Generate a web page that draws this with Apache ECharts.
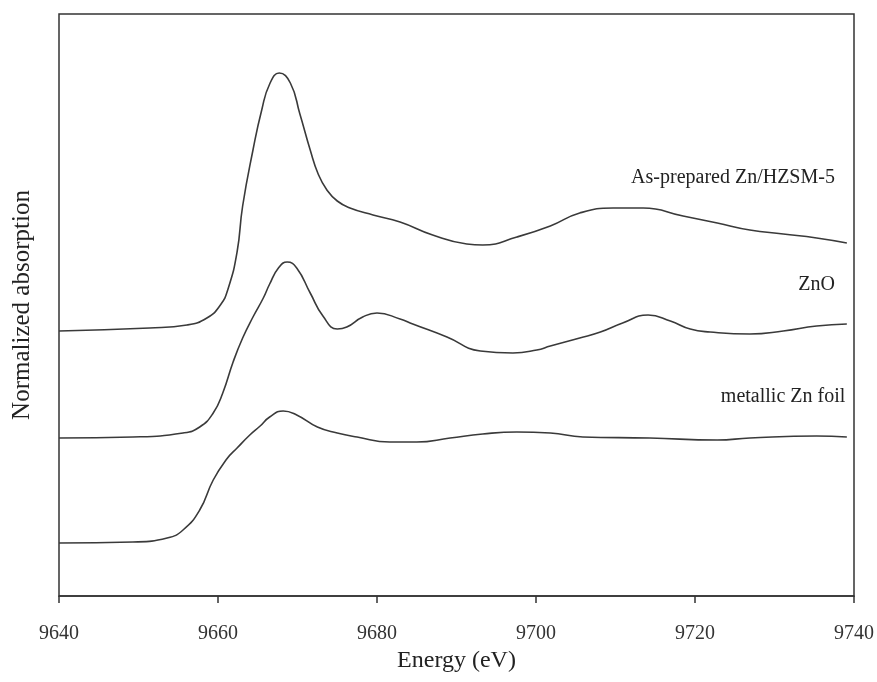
<!DOCTYPE html>
<html>
<head>
<meta charset="utf-8">
<script src="https://cdn.jsdelivr.net/npm/echarts@6/dist/echarts.min.js"></script>
<style>
html,body{margin:0;padding:0;background:#fff;}
#chart{width:877px;height:682px;}
</style>
</head>
<body>
<div id="chart"></div>
<script>
// X tick values (eV)
const xTicks = [9640, 9660, 9680, 9700, 9720, 9740];

// As-prepared Zn/HZSM-5 (offset normalized absorption)
const asPrepE = [9640.0, 9651.4, 9656.1, 9658.6, 9660.3, 9661.3, 9662.4, 9663.1, 9664.4, 9665.5, 9666.5, 9667.7, 9669.1, 9670.3, 9671.6, 9672.6, 9673.7, 9675.0, 9676.6, 9679.5, 9682.9, 9687.0, 9691.3, 9693.3, 9697.6, 9701.8, 9705.5, 9709.7, 9713.5, 9718.5, 9722.8, 9726.9, 9731.1, 9735.3, 9739.1];
const asPrepMu = [2.65, 2.68, 2.71, 2.78, 2.91, 3.08, 3.44, 3.90, 4.46, 4.86, 5.12, 5.23, 5.13, 4.82, 4.46, 4.22, 4.06, 3.95, 3.88, 3.81, 3.74, 3.61, 3.52, 3.51, 3.59, 3.70, 3.83, 3.88, 3.88, 3.80, 3.73, 3.66, 3.62, 3.58, 3.53];

// ZnO
const znoE = [9640.0, 9649.3, 9655.6, 9657.7, 9659.4, 9660.6, 9661.9, 9663.1, 9664.4, 9665.7, 9666.5, 9667.6, 9668.7, 9669.9, 9671.6, 9673.2, 9675.0, 9676.2, 9678.2, 9680.0, 9682.9, 9684.5, 9688.8, 9693.0, 9697.1, 9700.1, 9701.8, 9705.5, 9708.1, 9710.9, 9714.1, 9716.9, 9719.4, 9721.9, 9726.9, 9731.1, 9735.3, 9739.1];
const znoMu = [1.58, 1.59, 1.63, 1.69, 1.83, 2.03, 2.34, 2.58, 2.79, 2.98, 3.12, 3.28, 3.34, 3.28, 3.03, 2.80, 2.67, 2.69, 2.79, 2.83, 2.77, 2.72, 2.59, 2.45, 2.43, 2.46, 2.50, 2.58, 2.64, 2.73, 2.81, 2.75, 2.67, 2.64, 2.62, 2.65, 2.70, 2.72];

// metallic Zn foil
const znFoilE = [9640.0, 9649.3, 9653.6, 9655.6, 9657.7, 9659.4, 9661.1, 9662.4, 9664.0, 9665.3, 9666.5, 9668.2, 9669.9, 9672.5, 9675.0, 9677.5, 9681.6, 9685.0, 9689.2, 9693.3, 9697.6, 9701.8, 9705.9, 9714.3, 9722.8, 9726.9, 9735.3, 9739.1];
const znFoilMu = [0.53, 0.54, 0.58, 0.66, 0.86, 1.16, 1.37, 1.48, 1.61, 1.70, 1.79, 1.85, 1.81, 1.69, 1.63, 1.59, 1.54, 1.54, 1.58, 1.62, 1.64, 1.63, 1.59, 1.58, 1.56, 1.58, 1.60, 1.59];

// Curve labels: [name, energy of right end, value]
const labelNames = ['As-prepared Zn/HZSM-5', 'ZnO', 'metallic Zn foil'];
const labelE = [9737.6, 9737.6, 9738.9];
const labelY = [4.18, 3.11, 1.99];

const FONT = '"Liberation Serif", "DejaVu Serif", serif';
const LINE = '#3a3a3a';

function pairs(xs, ys) { return xs.map((x, i) => [x, ys[i]]); }

function mkSeries(name, xs, ys, idx) {
  return {
    name: name,
    type: 'line',
    data: pairs(xs, ys),
    smooth: 0.5,
    showSymbol: false,
    symbol: 'none',
    lineStyle: { color: LINE, width: 1.6 },
    itemStyle: { color: LINE },
    animation: false,
    markPoint: {
      symbol: 'circle',
      symbolSize: 0,
      animation: false,
      data: [{
        coord: [labelE[idx], labelY[idx]],
        label: {
          show: true,
          position: 'left',
          distance: 0,
          formatter: labelNames[idx],
          color: '#222',
          fontFamily: FONT,
          fontSize: 20
        }
      }]
    }
  };
}

const chart = echarts.init(document.getElementById('chart'));
chart.setOption({
  backgroundColor: '#fff',
  animation: false,
  grid: {
    left: 59, right: 23, top: 14, bottom: 86,
    show: true, borderColor: '#333', borderWidth: 1.5, backgroundColor: 'transparent'
  },
  xAxis: {
    type: 'value',
    min: xTicks[0],
    max: xTicks[xTicks.length - 1],
    interval: 20,
    name: 'Energy (eV)',
    nameLocation: 'middle',
    nameGap: 52,
    nameTextStyle: { fontFamily: FONT, fontSize: 24, color: '#222' },
    axisLine: { show: true, lineStyle: { color: '#333', width: 1.5 } },
    axisTick: { show: true, inside: false, length: 7, lineStyle: { color: '#333', width: 1.5 } },
    axisLabel: { margin: 28, fontFamily: FONT, fontSize: 20, color: '#333', formatter: v => String(v) },
    splitLine: { show: false }
  },
  yAxis: {
    type: 'value',
    min: 0,
    max: 5.82,
    name: 'Normalized absorption',
    nameLocation: 'middle',
    nameGap: 24,
    nameTextStyle: { fontFamily: FONT, fontSize: 25, color: '#222' },
    axisLine: { show: false },
    axisTick: { show: false },
    axisLabel: { show: false },
    splitLine: { show: false }
  },
  series: [
    mkSeries(labelNames[0], asPrepE, asPrepMu, 0),
    mkSeries(labelNames[1], znoE, znoMu, 1),
    mkSeries(labelNames[2], znFoilE, znFoilMu, 2)
  ]
});
</script>
</body>
</html>
